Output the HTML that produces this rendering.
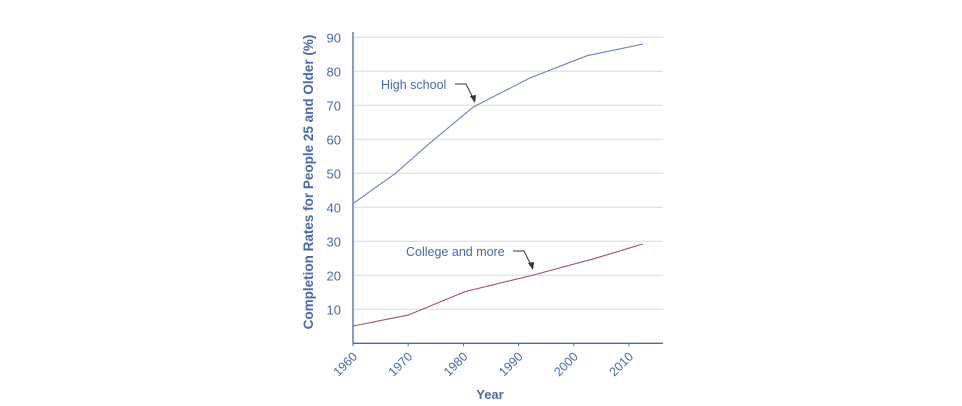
<!DOCTYPE html>
<html><head><meta charset="utf-8"><style>
html,body{margin:0;padding:0;background:#fff;}
svg{display:block;font-family:"Liberation Sans",Arial,sans-serif;}
</style></head><body>
<svg width="962" height="406" viewBox="0 0 962 406">
<g id="grid"></g>
<g id="axes"></g>
<g id="series"></g>
<text x="313" y="182" transform="rotate(-90 313 182)" text-anchor="middle" font-size="13.5" font-weight="bold" fill="#4a68ad">Completion Rates for People 25 and Older (%)</text>
<text x="490" y="399" text-anchor="middle" font-size="13" font-weight="bold" fill="#4a68ad">Year</text>
<text x="381" y="89" font-size="12.5" fill="#4a68ad">High school</text>
<path d="M455 84 L466 84 L474 100" fill="none" stroke="#333" stroke-width="1"/>
<path d="M470 96 L475 103 L476 95 Z" fill="#333"/>
<text x="406" y="256" font-size="12.5" fill="#4a68ad">College and more</text>
<path d="M513 251 L524 251 L532 267" fill="none" stroke="#333" stroke-width="1"/>
<path d="M528 263 L533 270 L534 262 Z" fill="#333"/>
</svg>
<script>
const yTicks=[10,20,30,40,50,60,70,80,90];
const xTicks=[1960,1970,1980,1990,2000,2010];
const hsYears=[1960,1967.7,1974,1981.8,1992,2002.4,2012.5];
const hsValues=[41.1,50,59,69.5,78,84.6,88];
const colYears=[1960,1970,1980.3,1992.7,2003.9,2012.5];
const colValues=[5.1,8.3,15.2,20.1,25,29.2];
const NS="http://www.w3.org/2000/svg";
const X0=353,PX_PER_YEAR=5.52,Y0=343.3,PX_PER_UNIT=3.4,XR=663;
function xs(y){return X0+(y-1960)*PX_PER_YEAR;}
function ys(v){return Y0-v*PX_PER_UNIT;}
function mk(t,a,p){const e=document.createElementNS(NS,t);for(const k in a)e.setAttribute(k,a[k]);p.appendChild(e);return e;}
const grid=document.getElementById('grid'),axes=document.getElementById('axes'),series=document.getElementById('series');
yTicks.forEach(v=>{
 const l=mk('line',{x1:X0,x2:XR,y1:ys(v),y2:ys(v),stroke:'#dcdcdc','stroke-width':1},grid);
 
 
 const t=mk('text',{x:X0-12,y:ys(v)+5,'text-anchor':'end','font-size':13,fill:'#4a68ad'},axes);
 t.textContent=v;
 
 
});
const ya=mk('line',{x1:X0,x2:X0,y1:32,y2:Y0,stroke:'#4a68ad','stroke-width':1.3},axes);


const xa=mk('line',{x1:X0,x2:XR,y1:Y0,y2:Y0,stroke:'#4a68ad','stroke-width':1.3},axes);


xTicks.forEach(y=>{
 const x=xs(y);
 const tk=mk('line',{x1:x,x2:x,y1:Y0,y2:Y0+3,stroke:'#4a68ad'},axes);
 
 
 const t=mk('text',{x:x+5,y:Y0+14,'text-anchor':'end','font-size':12.5,fill:'#4a68ad',transform:`rotate(-45 ${x+5} ${Y0+14})`},axes);
 t.textContent=y;
 
 
});
function line(yrs,vals,col,name){
 const d=yrs.map((y,i)=>(i?'L':'M')+xs(y).toFixed(1)+' '+ys(vals[i]).toFixed(1)).join(' ');
 const p=mk('path',{d:d,fill:'none',stroke:col,'stroke-width':1.1},series);
 
 
}
line(hsYears,hsValues,'#6d80c0','high-school-line');
line(colYears,colValues,'#a3525e','college-line');
</script>
</body></html>
